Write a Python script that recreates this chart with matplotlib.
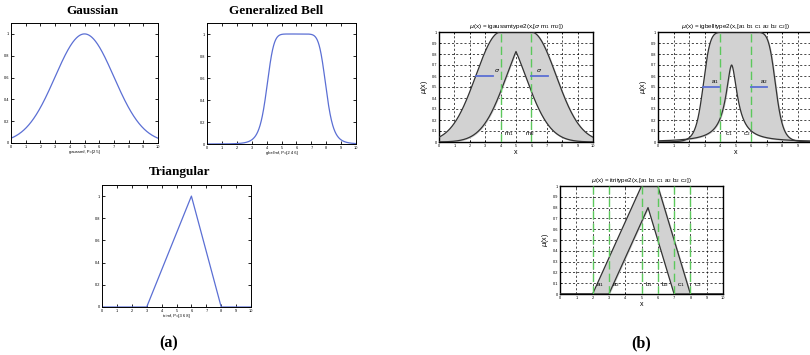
import numpy as np
import matplotlib
matplotlib.use("Agg")
import matplotlib.pyplot as plt

# membership function parameters
gauss_p = [2, 5]          # sigma, c
bell_p = [2, 4, 6]        # a, b, c
tri_p = [3, 6, 8]         # a, b, c

it2_sigma = 1.6
it2_m = [4, 6]
it2_bell_up = [2.35, 5, 5.25]    # a, b, c of upper bell
it2_bell_lo = [0.47, 0.9, 4.75]  # a, b, c of lower bell
it2_bell_lo_h = 0.7              # height of lower bell
it2_bell_c = [4, 6]
it2_tri_a = [2, 3]
it2_tri_b = [5, 6]
it2_tri_c = [7, 8]

x = np.linspace(0, 10, 801)
W, H = 810, 355
blue = "#5b6fd4"
green = "#5cc85c"
serif = "Liberation Serif"
sans = "Liberation Sans"

plt.rcParams["font.family"] = sans
fig = plt.figure(figsize=(W / 100, H / 100), dpi=100)


def box(l, t, r, b):
    return fig.add_axes([l / W, 1 - b / H, (r - l) / W, (b - t) / H])


def gauss(x, s, c):
    return np.exp(-(x - c) ** 2 / (2 * s ** 2))


def bell(x, a, b, c):
    return 1 / (1 + np.abs((x - c) / a) ** (2 * b))


def style_a(ax, lab):
    ax.set_xlim(0, 10)
    ax.set_ylim(0, 1.1)
    ax.set_xticks(range(11))
    ax.set_yticks([0, 0.2, 0.4, 0.6, 0.8, 1])
    ax.set_yticklabels(["0", "0.2", "0.4", "0.6", "0.8", "1"])
    ax.tick_params(direction="in", top=True, right=True, labelsize=2.8,
                   length=2, width=0.6, pad=1.5)
    for s in ax.spines.values():
        s.set_linewidth(0.7)
    ax.set_xlabel(lab, fontsize=3, labelpad=1)


def style_b(ax, last_label=True):
    ax.set_xlim(0, 10)
    ax.set_ylim(0, 1)
    ax.set_xticks(range(11))
    xl = [str(i) for i in range(11)]
    if not last_label:
        xl[-1] = ""
    ax.set_xticklabels(xl)
    ax.set_yticks(np.arange(0, 1.01, 0.1))
    ax.set_yticklabels(["0", "0.1", "0.2", "0.3", "0.4", "0.5", "0.6",
                        "0.7", "0.8", "0.9", "1"])
    ax.tick_params(direction="in", top=True, right=True, labelsize=2.8,
                   length=1.5, width=0.5, pad=1.5)
    ax.grid(True, color="black", linestyle=(0, (3, 3)), linewidth=0.5)
    for s in ax.spines.values():
        s.set_linewidth(1.0)
    ax.set_xlabel("x", fontsize=5, labelpad=1)
    ax.set_ylabel(r"$\mu$(x)", fontsize=5, labelpad=1)


def band(ax, lo, up):
    ax.fill_between(x, lo, up, color="#d2d2d2", zorder=2)
    ax.plot(x, up, color="#333333", lw=0.9, zorder=3)
    ax.plot(x, lo, color="#333333", lw=0.9, zorder=3)


# (a) type-1 functions
ax = box(11, 23, 158, 143)
ax.plot(x, gauss(x, *gauss_p), color=blue, lw=0.9)
style_a(ax, "gaussmf, P=[2 5]")
fig.text(92 / W, 1 - 11 / H, "Gaussian", family=serif, weight="bold",
         fontsize=9.5, ha="center", va="center")

ax = box(207, 23, 356, 144)
ax.plot(x, bell(x, *bell_p), color=blue, lw=0.9)
style_a(ax, "gbellmf, P=[2 4 6]")
fig.text(276 / W, 1 - 11 / H, "Generalized Bell", family=serif,
         weight="bold", fontsize=9.5, ha="center", va="center")

ax = box(102, 185, 251, 307)
tri = np.maximum(np.minimum((x - tri_p[0]) / (tri_p[1] - tri_p[0]),
                            (tri_p[2] - x) / (tri_p[2] - tri_p[1])), 0)
ax.plot(x, tri, color=blue, lw=0.9)
style_a(ax, "trimf, P=[3 6 8]")
fig.text(180 / W, 1 - 172 / H, "Triangular", family=serif, weight="bold",
         fontsize=9.5, ha="center", va="center")

fig.text(169 / W, 1 - 343 / H, "(a)", family=serif, weight="bold",
         fontsize=11.5, ha="center", va="center")

# (b) interval type-2 functions
ax = box(439, 32, 593, 142)
up = np.where(x < it2_m[0], gauss(x, it2_sigma, it2_m[0]),
              np.where(x > it2_m[1], gauss(x, it2_sigma, it2_m[1]), 1.0))
lo = np.minimum(gauss(x, it2_sigma, it2_m[0]), gauss(x, it2_sigma, it2_m[1]))
band(ax, lo, up)
for m in it2_m:
    ax.axvline(m, color=green, lw=1, linestyle=(0, (6, 3)), zorder=4)
ax.plot([2.4, 3.5], [0.6, 0.6], color=blue, lw=1.3, zorder=4)
ax.plot([6.0, 7.1], [0.6, 0.6], color=blue, lw=1.3, zorder=4)
ax.text(3.6, 0.64, r"$\sigma$", fontsize=4.5, zorder=5)
ax.text(6.3, 0.64, r"$\sigma$", fontsize=4.5, zorder=5)
ax.text(4.2, 0.06, r"m$_1$", fontsize=4.5, zorder=5)
ax.text(5.6, 0.06, r"m$_2$", fontsize=4.5, zorder=5)
style_b(ax)
ax.set_title(r"$\mu$(x) = igaussmtype2(x,[$\sigma$ m$_1$ m$_2$])",
             fontsize=4.5, pad=3)

ax = box(658, 32, 813, 142)
up = bell(x, *it2_bell_up)
lo = it2_bell_lo_h * bell(x, *it2_bell_lo)
band(ax, lo, up)
for c in it2_bell_c:
    ax.axvline(c, color=green, lw=1, linestyle=(0, (6, 3)), zorder=4)
ax.plot([2.9, 3.95], [0.5, 0.5], color=blue, lw=1.3, zorder=4)
ax.plot([6.0, 7.0], [0.5, 0.5], color=blue, lw=1.3, zorder=4)
ax.text(3.45, 0.54, r"a$_1$", fontsize=4.5, zorder=5)
ax.text(6.55, 0.54, r"a$_2$", fontsize=4.5, zorder=5)
ax.text(4.3, 0.06, r"c$_1$", fontsize=4.5, zorder=5)
ax.text(5.5, 0.06, r"c$_2$", fontsize=4.5, zorder=5)
style_b(ax, last_label=False)
ax.set_title(r"$\mu$(x) = igbelltype2(x,[a$_1$ b$_1$ c$_1$ a$_2$ b$_2$ c$_2$])",
             fontsize=4.5, pad=3)

ax = box(560, 186, 723, 294)
up = np.clip(np.minimum.reduce([(x - it2_tri_a[0]) / (it2_tri_b[0] - it2_tri_a[0]),
                                np.ones_like(x),
                                (it2_tri_c[1] - x) / (it2_tri_c[1] - it2_tri_b[1])]), 0, 1)
lo = np.clip(np.minimum((x - it2_tri_a[1]) / (it2_tri_b[1] - it2_tri_a[1]),
                        (it2_tri_c[0] - x) / (it2_tri_c[0] - it2_tri_b[0])), 0, 1)
band(ax, lo, up)
labels = [("a", it2_tri_a), ("b", it2_tri_b), ("c", it2_tri_c)]
for name, vals in labels:
    for i, v in enumerate(vals):
        ax.axvline(v, color=green, lw=1, linestyle=(0, (6, 3)), zorder=4)
        ax.text(v + 0.2, 0.07, name + "$_%d$" % (i + 1), fontsize=4.5, zorder=5)
style_b(ax)
ax.set_title(r"$\mu$(x) = itritype2(x,[a$_1$ b$_1$ c$_1$ a$_2$ b$_2$ c$_2$])",
             fontsize=4.5, pad=3)

fig.text(641 / W, 1 - 343 / H, "(b)", family=serif, weight="bold",
         fontsize=11.5, ha="center", va="center")

fig.savefig("out.png", dpi=100)
